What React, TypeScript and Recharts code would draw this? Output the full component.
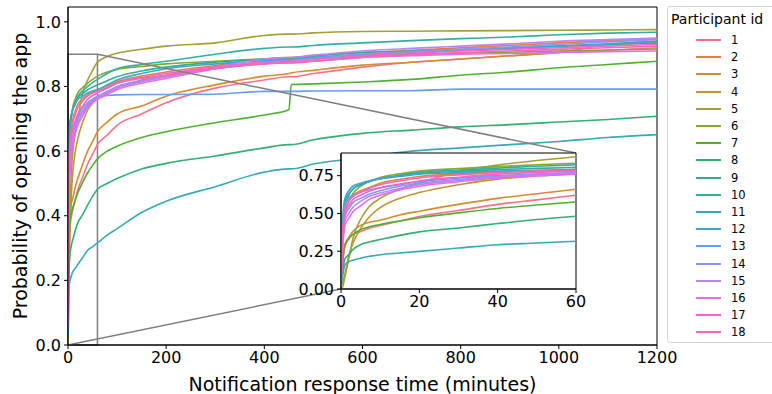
import React from "react";
import { LineChart, Line, XAxis, YAxis, ReferenceArea, ReferenceLine } from "recharts";

// response time grid (minutes)
const minutes = [0, 0.5, 1, 2, 3, 5, 7, 10, 15, 20, 30, 40, 50, 60, 80, 100, 150, 200, 300, 400, 450, 455, 500, 600, 700, 800, 900, 1000, 1100, 1200];

// cumulative probability of opening the app, per participant
const p1 = [0.05, 0.2, 0.28, 0.33, 0.36, 0.38, 0.4, 0.42, 0.45, 0.48, 0.52, 0.56, 0.59, 0.62, 0.65, 0.68, 0.715, 0.75, 0.795, 0.82, 0.83, 0.83, 0.84, 0.86, 0.875, 0.885, 0.895, 0.905, 0.912, 0.92];
const p2 = [0.1, 0.42, 0.55, 0.6, 0.62, 0.65, 0.67, 0.7, 0.725, 0.745, 0.762, 0.775, 0.783, 0.79, 0.803, 0.815, 0.832, 0.845, 0.865, 0.885, 0.889, 0.889, 0.895, 0.905, 0.912, 0.92, 0.927, 0.935, 0.942, 0.948];
const p3 = [0.05, 0.22, 0.29, 0.34, 0.38, 0.42, 0.44, 0.455, 0.49, 0.515, 0.56, 0.6, 0.63, 0.66, 0.69, 0.715, 0.74, 0.77, 0.805, 0.832, 0.84, 0.842, 0.85, 0.866, 0.875, 0.885, 0.895, 0.905, 0.93, 0.94];
const p4 = [0.02, 0.05, 0.1, 0.22, 0.3, 0.4, 0.47, 0.538, 0.6, 0.638, 0.69, 0.727, 0.748, 0.762, 0.78, 0.795, 0.82, 0.835, 0.86, 0.875, 0.88, 0.88, 0.885, 0.895, 0.905, 0.913, 0.92, 0.925, 0.93, 0.935];
const p5 = [0, 0.02, 0.08, 0.2, 0.33, 0.46, 0.54, 0.6, 0.66, 0.7, 0.78, 0.82, 0.85, 0.875, 0.893, 0.903, 0.915, 0.925, 0.935, 0.958, 0.962, 0.962, 0.966, 0.97, 0.971, 0.972, 0.973, 0.974, 0.975, 0.976];
const p6 = [0.1, 0.38, 0.5, 0.58, 0.63, 0.68, 0.71, 0.738, 0.762, 0.78, 0.797, 0.81, 0.822, 0.832, 0.845, 0.853, 0.862, 0.87, 0.878, 0.885, 0.887, 0.887, 0.89, 0.895, 0.9, 0.903, 0.906, 0.91, 0.913, 0.916];
const p7 = [0.05, 0.2, 0.293, 0.338, 0.36, 0.393, 0.41, 0.427, 0.45, 0.471, 0.504, 0.533, 0.556, 0.576, 0.6, 0.615, 0.642, 0.66, 0.688, 0.712, 0.728, 0.806, 0.808, 0.814, 0.822, 0.835, 0.845, 0.858, 0.868, 0.878];
const p8 = [0.03, 0.13, 0.2, 0.227, 0.26, 0.293, 0.31, 0.327, 0.355, 0.378, 0.404, 0.433, 0.46, 0.482, 0.5, 0.515, 0.545, 0.562, 0.585, 0.61, 0.62, 0.62, 0.635, 0.655, 0.665, 0.675, 0.682, 0.69, 0.698, 0.708];
const p9 = [0.12, 0.45, 0.58, 0.63, 0.66, 0.69, 0.71, 0.73, 0.75, 0.765, 0.778, 0.79, 0.798, 0.805, 0.818, 0.83, 0.848, 0.86, 0.875, 0.885, 0.889, 0.889, 0.895, 0.905, 0.91, 0.915, 0.92, 0.925, 0.93, 0.935];
const p10 = [0.12, 0.44, 0.55, 0.62, 0.66, 0.69, 0.71, 0.73, 0.752, 0.77, 0.787, 0.8, 0.812, 0.822, 0.84, 0.855, 0.868, 0.878, 0.9, 0.918, 0.922, 0.922, 0.927, 0.935, 0.942, 0.948, 0.953, 0.96, 0.965, 0.968];
const p11 = [0.03, 0.1, 0.16, 0.18, 0.19, 0.204, 0.215, 0.227, 0.238, 0.249, 0.271, 0.293, 0.304, 0.316, 0.34, 0.36, 0.41, 0.445, 0.49, 0.535, 0.545, 0.545, 0.56, 0.58, 0.6, 0.61, 0.62, 0.63, 0.642, 0.651];
const p12 = [0.12, 0.48, 0.6, 0.65, 0.68, 0.7, 0.715, 0.73, 0.745, 0.76, 0.77, 0.78, 0.786, 0.79, 0.805, 0.82, 0.84, 0.855, 0.87, 0.88, 0.884, 0.884, 0.89, 0.9, 0.906, 0.912, 0.918, 0.925, 0.932, 0.94];
const p13 = [0.1, 0.4, 0.55, 0.6, 0.62, 0.64, 0.655, 0.67, 0.69, 0.71, 0.735, 0.75, 0.76, 0.768, 0.772, 0.774, 0.775, 0.775, 0.776, 0.785, 0.785, 0.785, 0.786, 0.787, 0.787, 0.792, 0.792, 0.792, 0.792, 0.792];
const p14 = [0.08, 0.35, 0.48, 0.53, 0.57, 0.6, 0.625, 0.65, 0.68, 0.7, 0.725, 0.745, 0.76, 0.77, 0.785, 0.8, 0.818, 0.83, 0.855, 0.875, 0.88, 0.88, 0.887, 0.9, 0.908, 0.915, 0.922, 0.93, 0.938, 0.945];
const p15 = [0.07, 0.32, 0.45, 0.5, 0.54, 0.58, 0.61, 0.635, 0.665, 0.69, 0.718, 0.74, 0.755, 0.765, 0.78, 0.795, 0.815, 0.83, 0.86, 0.885, 0.89, 0.89, 0.897, 0.91, 0.918, 0.925, 0.932, 0.94, 0.945, 0.95];
const p16 = [0.06, 0.3, 0.42, 0.47, 0.51, 0.55, 0.59, 0.62, 0.655, 0.68, 0.71, 0.735, 0.75, 0.76, 0.775, 0.79, 0.81, 0.825, 0.855, 0.87, 0.874, 0.874, 0.878, 0.89, 0.895, 0.9, 0.902, 0.905, 0.908, 0.91];
const p17 = [0.08, 0.37, 0.5, 0.55, 0.59, 0.62, 0.645, 0.67, 0.695, 0.715, 0.74, 0.76, 0.772, 0.78, 0.795, 0.81, 0.828, 0.84, 0.86, 0.875, 0.878, 0.878, 0.883, 0.895, 0.903, 0.91, 0.915, 0.92, 0.925, 0.93];
const p18 = [0.09, 0.39, 0.52, 0.58, 0.61, 0.64, 0.665, 0.69, 0.715, 0.735, 0.755, 0.77, 0.78, 0.785, 0.798, 0.81, 0.825, 0.835, 0.855, 0.87, 0.873, 0.873, 0.878, 0.89, 0.898, 0.905, 0.91, 0.915, 0.92, 0.925];

const participantIds = ["1", "2", "3", "4", "5", "6", "7", "8", "9", "10", "11", "12", "13", "14", "15", "16", "17", "18"];
const seriesValues = [p1, p2, p3, p4, p5, p6, p7, p8, p9, p10, p11, p12, p13, p14, p15, p16, p17, p18];

// seaborn husl-ish palette
const palette = [
  "#f77189", "#ed7b3f", "#d38c32", "#bd9631", "#a4a031", "#86a831",
  "#50b131", "#33b071", "#34ae8f", "#36ada4", "#37aab5", "#39a7cf",
  "#6a9bf2", "#8e94f4", "#bb83f4", "#e56cf0", "#f563d5", "#f66aad",
];

const mainXTicks = [0, 200, 400, 600, 800, 1000, 1200];
const mainYTicks = [0, 0.2, 0.4, 0.6, 0.8, 1.0];
const insetXTicks = [0, 20, 40, 60];
const insetYTicks = [0, 0.25, 0.5, 0.75];

const MAIN_X_MAX = 1200;
const MAIN_Y_MAX = 1.046;
const ZOOM_X_MAX = 60;
const ZOOM_Y_MAX = 0.9;

// pixel layout
const PLOT = { left: 68, top: 7, right: 657, bottom: 345 };
const INSET = { left: 341, top: 153, right: 576, bottom: 289 };
const INSET_YAXIS_W = 48;
const INSET_XAXIS_H = 24;
const INSET_PAD_R = 16;

const rows = minutes.map((t, i) => {
  const r: Record<string, number> = { t };
  seriesValues.forEach((s, k) => {
    r[`p${k + 1}`] = s[i];
  });
  return r;
});
const insetRows = rows.filter((r) => r.t <= ZOOM_X_MAX);

// convert page pixels to main-axes data coords (for the inset connector lines)
const toMainX = (px: number) => ((px - PLOT.left) / (PLOT.right - PLOT.left)) * MAIN_X_MAX;
const toMainY = (py: number) => ((PLOT.bottom - py) / (PLOT.bottom - PLOT.top)) * MAIN_Y_MAX;

const FONT = "'DejaVu Sans', sans-serif";
const grey = "#808080";
const TICK_FS = 16;
const LABEL_FS = 19;

const renderLines = (width: number) =>
  participantIds.map((id, k) => (
    <Line
      key={id}
      dataKey={`p${k + 1}`}
      name={id}
      type="monotone"
      stroke={palette[k]}
      strokeWidth={width}
      dot={false}
      activeDot={false}
      isAnimationActive={false}
    />
  ));

export default function App() {
  return (
    <div style={{ position: "relative", width: 772, height: 394, overflow: "hidden", fontFamily: FONT, background: "#fff" }}>
      <style>{"body{margin:0}"}</style>

      <LineChart
        width={772}
        height={394}
        data={rows}
        margin={{ top: PLOT.top, right: 772 - PLOT.right, bottom: 0, left: 0 }}
      >
        <XAxis
          type="number"
          dataKey="t"
          domain={[0, MAIN_X_MAX]}
          ticks={mainXTicks}
          allowDataOverflow
          height={394 - PLOT.bottom}
          tickSize={4}
          tickMargin={3}
          stroke="#000"
          tick={{ fill: "#000", fontSize: TICK_FS }}
          label={{ value: "Notification response time (minutes)", position: "insideBottom", offset: 3, fill: "#000", fontSize: LABEL_FS }}
        />
        <YAxis
          type="number"
          domain={[0, MAIN_Y_MAX]}
          ticks={mainYTicks}
          allowDataOverflow
          width={PLOT.left}
          tickSize={4}
          tickMargin={3}
          stroke="#000"
          tick={{ fill: "#000", fontSize: TICK_FS }}
          tickFormatter={(v: number) => v.toFixed(1)}
          label={{ value: "Probability of opening the app", angle: -90, position: "insideLeft", offset: 20, fill: "#000", fontSize: LABEL_FS, style: { textAnchor: "middle" } }}
        />
        {renderLines(1.6)}

        {/* zoom box + connectors to the inset */}
        <ReferenceArea x1={0} x2={ZOOM_X_MAX} y1={0} y2={ZOOM_Y_MAX} stroke={grey} strokeWidth={1.5} fill="none" fillOpacity={0} />
        <ReferenceLine
          segment={[{ x: ZOOM_X_MAX, y: ZOOM_Y_MAX }, { x: toMainX(INSET.right), y: toMainY(INSET.top) }]}
          stroke={grey}
          strokeWidth={1.5}
        />
        <ReferenceLine
          segment={[{ x: 0, y: 0 }, { x: toMainX(INSET.left), y: toMainY(INSET.bottom) }]}
          stroke={grey}
          strokeWidth={1.5}
        />
        {/* axes frame */}
        <ReferenceArea x1={0} x2={MAIN_X_MAX} y1={0} y2={MAIN_Y_MAX} stroke="#000" strokeWidth={1} fill="none" fillOpacity={0} />
      </LineChart>

      {/* inset axes background */}
      <div
        style={{
          position: "absolute",
          left: INSET.left,
          top: INSET.top,
          width: INSET.right - INSET.left,
          height: INSET.bottom - INSET.top,
          background: "#fff",
        }}
      />
      <div style={{ position: "absolute", left: INSET.left - INSET_YAXIS_W, top: INSET.top - 2 }}>
        <LineChart
          width={INSET_YAXIS_W + (INSET.right - INSET.left) + INSET_PAD_R}
          height={2 + (INSET.bottom - INSET.top) + INSET_XAXIS_H}
          data={insetRows}
          margin={{ top: 2, right: INSET_PAD_R, bottom: 0, left: 0 }}
        >
          <XAxis
            type="number"
            dataKey="t"
            domain={[0, ZOOM_X_MAX]}
            ticks={insetXTicks}
            allowDataOverflow
            height={INSET_XAXIS_H}
            tickSize={4}
            tickMargin={3}
            stroke="#000"
            tick={{ fill: "#000", fontSize: TICK_FS }}
          />
          <YAxis
            type="number"
            domain={[0, ZOOM_Y_MAX]}
            ticks={insetYTicks}
            allowDataOverflow
            width={INSET_YAXIS_W}
            tickSize={4}
            tickMargin={3}
            stroke="#000"
            tick={{ fill: "#000", fontSize: TICK_FS }}
            tickFormatter={(v: number) => v.toFixed(2)}
          />
          {renderLines(1.6)}
          <ReferenceArea x1={0} x2={ZOOM_X_MAX} y1={0} y2={ZOOM_Y_MAX} stroke="#000" strokeWidth={1} fill="none" fillOpacity={0} />
        </LineChart>
      </div>

      {/* legend */}
      <div
        style={{
          position: "absolute",
          left: 667,
          top: 6,
          width: 112,
          height: 337,
          border: "1px solid #d6d6d6",
          borderRadius: 3,
          background: "rgba(255,255,255,0.8)",
          boxSizing: "border-box",
        }}
      >
        <div style={{ position: "absolute", left: 3, top: 4, fontSize: 14, color: "#000", whiteSpace: "nowrap" }}>
          Participant id
        </div>
        {participantIds.map((id, k) => {
          const cy = 33 + k * 17.2;
          return (
            <React.Fragment key={id}>
              <div
                style={{
                  position: "absolute",
                  left: 28,
                  top: cy - 1,
                  width: 25,
                  height: 2,
                  background: palette[k],
                }}
              />
              <div style={{ position: "absolute", left: 63, top: cy - 8, fontSize: 11.5, lineHeight: "16px", color: "#000" }}>
                {id}
              </div>
            </React.Fragment>
          );
        })}
      </div>
    </div>
  );
}
